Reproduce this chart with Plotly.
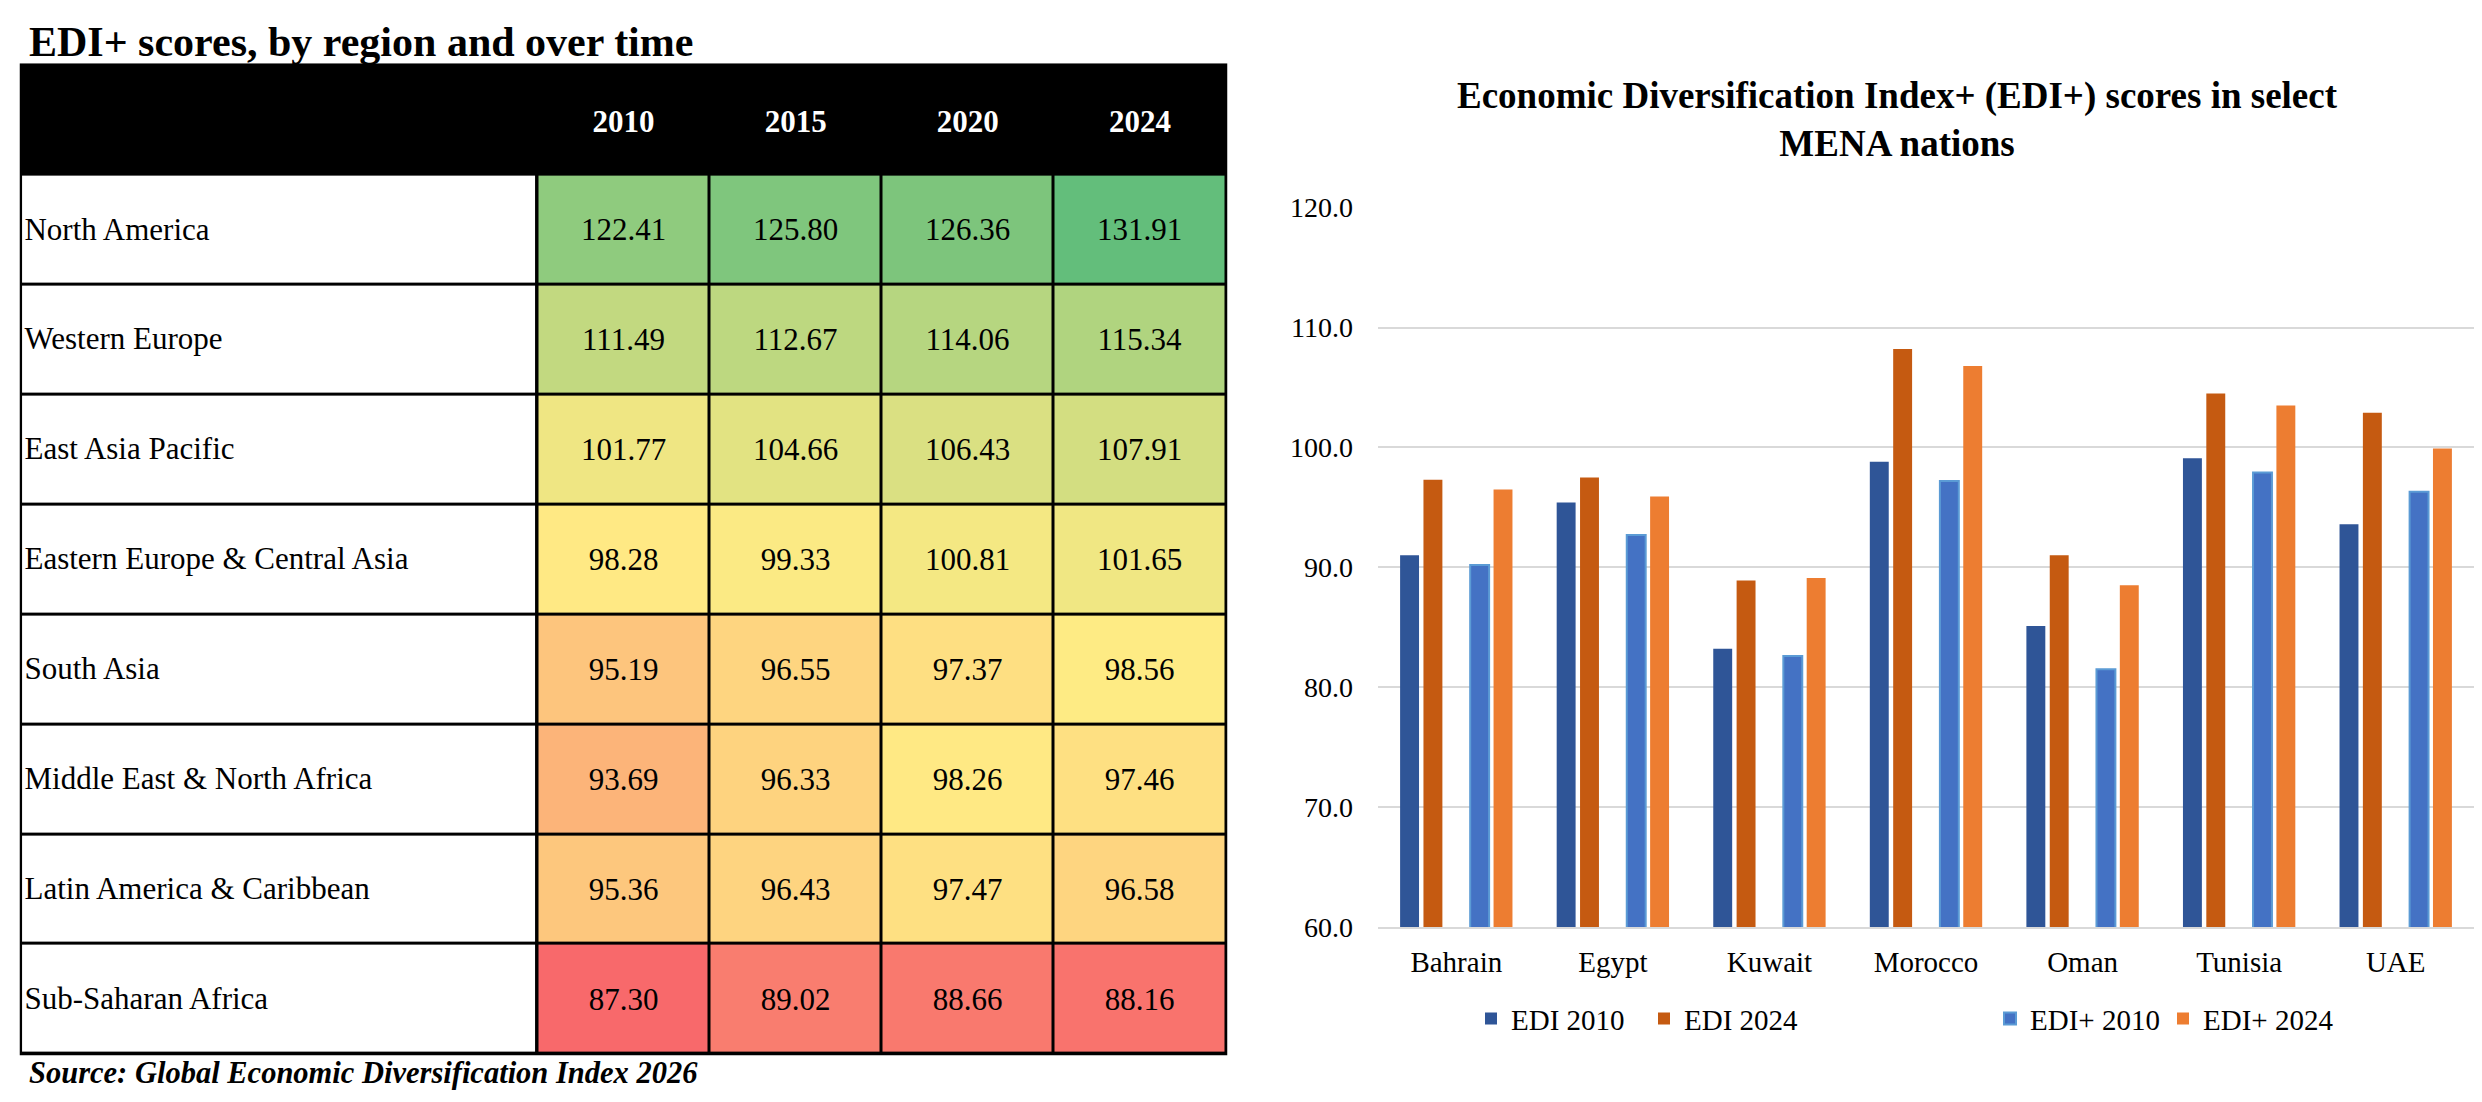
import numpy as np
import plotly.graph_objects as go

# ---------------- data ----------------
regions = ["North America", "Western Europe", "East Asia Pacific",
           "Eastern Europe & Central Asia", "South Asia",
           "Middle East & North Africa", "Latin America & Caribbean",
           "Sub-Saharan Africa"]
years = ["2010", "2015", "2020", "2024"]
scores_2010 = [122.41, 111.49, 101.77, 98.28, 95.19, 93.69, 95.36, 87.30]
scores_2015 = [125.80, 112.67, 104.66, 99.33, 96.55, 96.33, 96.43, 89.02]
scores_2020 = [126.36, 114.06, 106.43, 100.81, 97.37, 98.26, 97.47, 88.66]
scores_2024 = [131.91, 115.34, 107.91, 101.65, 98.56, 97.46, 96.58, 88.16]

countries = ["Bahrain", "Egypt", "Kuwait", "Morocco", "Oman", "Tunisia", "UAE"]
edi_2010 = [91.0, 95.4, 83.2, 98.8, 85.1, 99.1, 93.6]
edi_2024 = [97.3, 97.5, 88.9, 108.2, 91.0, 104.5, 102.9]
edi_plus_2010 = [90.2, 92.7, 82.6, 97.2, 81.5, 97.9, 96.3]
edi_plus_2024 = [96.5, 95.9, 89.1, 106.8, 88.5, 103.5, 99.9]

series_names = ["EDI 2010", "EDI 2024", " ", "EDI+ 2010", "EDI+ 2024"]

# ---------------- layout constants ----------------
PAGE_W, PAGE_H = 2482, 1102
BODY_MARGIN = 8          # default browser body margin
W, H = PAGE_W - 2 * BODY_MARGIN, PAGE_H - 2 * BODY_MARGIN
FONT = "Liberation Serif, Times New Roman, serif"
# empirical vertical correction of the capture
SY, OY = 0.975, 13.9

def px_x(p):
    return (p - BODY_MARGIN) / W

def px_y(p):
    d = (p - OY) / SY
    return 1 - (d - BODY_MARGIN) / H

fig = go.Figure()

# ---------------- table (heatmap based) ----------------
z = np.array([scores_2010, scores_2015, scores_2020, scores_2024]).T
zmin, zmax = float(z.min()), float(z.max())
zmid = float(np.percentile(z, 50))
pmid = (zmid - zmin) / (zmax - zmin)
cscale = [[0, "#F8696B"], [pmid, "#FFEB84"], [1, "#63BE7B"]]

n_rows = len(regions)
row_edges = list(range(1, n_rows + 2))
label_w = 3
col_edges = [label_w + i for i in range(len(years) + 1)]

fig.add_trace(go.Heatmap(
    x=[0, label_w], y=row_edges, z=[[0]] * n_rows,
    colorscale=[[0, "white"], [1, "white"]], showscale=False,
    xgap=3, ygap=3, xaxis="x2", yaxis="y2", hoverinfo="skip", showlegend=False))

fig.add_trace(go.Heatmap(
    x=col_edges, y=row_edges, z=z, zmin=zmin, zmax=zmax,
    colorscale=cscale, showscale=False, xgap=3, ygap=3,
    texttemplate="%{z:.2f}",
    textfont=dict(family=FONT, size=31, color="black"),
    xaxis="x2", yaxis="y2", hoverinfo="skip", showlegend=False))

fig.add_trace(go.Scatter(
    x=[0.02] * n_rows, y=[i + 1.52 for i in range(n_rows)], text=regions,
    mode="text", textposition="middle right",
    textfont=dict(family=FONT, size=31, color="black"),
    xaxis="x2", yaxis="y2", hoverinfo="skip", showlegend=False))

fig.add_trace(go.Scatter(
    x=[label_w + i + 0.5 for i in range(len(years))], y=[0.54] * len(years),
    text=years, texttemplate="<b>%{text}</b>",
    mode="text", textposition="middle center",
    textfont=dict(family=FONT, size=31, color="white"),
    xaxis="x2", yaxis="y2", hoverinfo="skip", showlegend=False))

eps_x = 0.009
eps_y = 0.014
total_w = label_w + len(years)
total_h = n_rows + 1
fig.add_shape(type="rect", xref="x2", yref="y2", layer="below",
              x0=-eps_x, x1=total_w + eps_x, y0=-eps_y, y1=total_h + eps_y,
              fillcolor="black", line=dict(width=0))

# ---------------- bar chart ----------------
colors = ["#2F5597", "#C55A11", "rgba(0,0,0,0)", "#4472C4", "#ED7D31"]
series_vals = [edi_2010, edi_2024, [None] * len(countries), edi_plus_2010, edi_plus_2024]
for name, vals, col in zip(series_names, series_vals, colors):
    line = dict(width=0)
    if name == "EDI+ 2010":
        line = dict(width=2, color="#5B9BD5")
    fig.add_trace(go.Bar(x=countries, y=vals, name=name,
                         marker=dict(color=col, line=line),
                         xaxis="x", yaxis="y", hoverinfo="skip"))

fig.update_layout(
    width=W, height=H,
    margin=dict(l=0, r=0, t=0, b=0),
    paper_bgcolor="white", plot_bgcolor="white",
    font=dict(family=FONT, color="black"),
    barmode="group", bargap=0.254, bargroupgap=0.19,
    showlegend=True,
    legend=dict(orientation="h", x=px_x(1471), xanchor="left",
                y=px_y(1021), yanchor="middle",
                entrywidth=128, entrywidthmode="pixels",
                font=dict(family=FONT, size=29, color="black"),
                bgcolor="rgba(0,0,0,0)", traceorder="normal"),
    xaxis=dict(domain=[px_x(1378), px_x(2474)], showgrid=False,
               showline=True, linecolor="#D9D9D9", linewidth=2,
               ticks="", tickfont=dict(family=FONT, size=29, color="black"),
               ticklabelstandoff=8, fixedrange=True),
    yaxis=dict(domain=[px_y(929), px_y(207)], range=[60, 120], dtick=10,
               tickformat=".1f", showgrid=True, gridcolor="#D9D9D9", gridwidth=2,
               zeroline=False, showline=False, ticks="",
               tickfont=dict(family=FONT, size=28, color="black"),
               ticklabelstandoff=24, fixedrange=True),
    xaxis2=dict(domain=[px_x(19.5), px_x(1227.5)], range=[-eps_x, total_w + eps_x],
                visible=False, fixedrange=True, anchor="y2"),
    yaxis2=dict(domain=[px_y(1058), px_y(62)], range=[total_h + eps_y, -eps_y],
                visible=False, fixedrange=True, anchor="x2"),
    annotations=[
        dict(text="<b>EDI+ scores, by region and over time</b>", x=px_x(27), y=px_y(41),
             xref="paper", yref="paper", xanchor="left", yanchor="middle",
             showarrow=False, font=dict(family=FONT, size=42, color="black")),
        dict(text="<b>Economic Diversification Index+ (EDI+) scores in select<br>MENA nations</b>",
             x=px_x(1897), y=px_y(119), xref="paper", yref="paper",
             xanchor="center", yanchor="middle", showarrow=False,
             font=dict(family=FONT, size=37, color="black")),
        dict(text="<b><i>Source: Global Economic Diversification Index 2026</i></b>",
             x=px_x(27), y=px_y(1076), xref="paper", yref="paper",
             xanchor="left", yanchor="middle", showarrow=False,
             font=dict(family=FONT, size=30.5, color="black")),
    ],
)

fig.write_html("out.html", config={"displayModeBar": False})
